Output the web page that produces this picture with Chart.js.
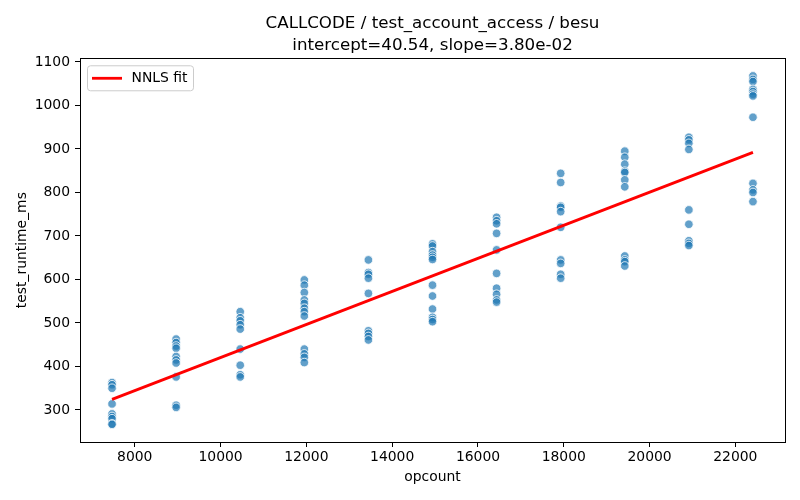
<!DOCTYPE html>
<html>
<head>
<meta charset="utf-8">
<script src="https://cdn.jsdelivr.net/npm/chart.js@4.4.1/dist/chart.umd.min.js"></script>
<style>
    html, body { margin: 0; padding: 0; background: #fff; }
</style>
</head>
<body>
<canvas id="GraficoAjuste" width="800" height="500"></canvas>
<script>
// valores
var opcounts = [7470, 8964, 10458, 11952, 13446, 14940, 16434, 17928, 19422, 20916, 22410];

var rt7470 = [363, 358, 350, 314, 291, 285, 280, 268, 267];
var rt8964 = [463, 455, 447, 442, 423, 415, 408, 376, 311, 306];
var rt10458 = [526, 512, 505, 496, 486, 440, 403, 381, 376];
var rt11952 = [599, 587, 570, 553, 545, 534, 526, 516, 440, 429, 421, 409];
var rt13446 = [645, 616, 612, 603, 568, 482, 476, 469, 461];
var rt14940 = [682, 677, 664, 656, 651, 646, 587, 562, 532, 513, 508, 503];
var rt16434 = [743, 735, 728, 706, 668, 614, 580, 566, 553, 548];
var rt17928 = [844, 823, 769, 766, 756, 720, 645, 637, 612, 603];
var rt19422 = [895, 881, 865, 849, 846, 829, 813, 654, 645, 641, 631];
var rt20916 = [927, 921, 913, 899, 760, 727, 689, 683, 678];
var rt22410 = [1068, 1060, 1055, 1037, 1032, 1026, 1022, 973, 821, 806, 800, 779];

var runtimes = [rt7470, rt8964, rt10458, rt11952, rt13446, rt14940, rt16434, rt17928, rt19422, rt20916, rt22410];

// reta NNLS (pontos extremos)
var fitX = [7470, 22410];
var fitY = [324.4, 892.1];

var xTicks = [8000, 10000, 12000, 14000, 16000, 18000, 20000, 22000];
var yTicks = [300, 400, 500, 600, 700, 800, 900, 1000, 1100];

function MontarPontos() {
    var pontos = [];
    var indice = 0;
    while (indice < opcounts.length) {
        var lista = runtimes[indice];
        for (var j = 0; j < lista.length; j++) {
            pontos.push({ x: opcounts[indice], y: lista[j] });
        }
        indice++;
    }
    return pontos;
}

function MontarReta() {
    var pontos = [];
    for (var i = 0; i < fitX.length; i++) {
        pontos.push({ x: fitX[i], y: fitY[i] });
    }
    return pontos;
}

function SemVirgula(valor) {
    return String(valor);
}

var fonte = "'DejaVu Sans', sans-serif";

var moldura = {
    id: 'moldura',
    afterDatasetsDraw: function (chart) {
        var a = chart.chartArea;
        var ctx = chart.ctx;
        ctx.save();
        ctx.strokeStyle = '#000';
        ctx.lineWidth = 1;
        ctx.strokeRect(Math.round(a.left) + 0.5, Math.round(a.top) + 0.5,
            Math.round(a.right - a.left), Math.round(a.bottom - a.top));

        // legenda dentro da area
        var ds = chart.data.datasets[0];
        var bx = a.left + 7.5, by = a.top + 7.5, bw = 106, bh = 25;
        ctx.beginPath();
        ctx.roundRect(bx, by, bw, bh, 3);
        ctx.fillStyle = 'rgba(255,255,255,0.8)';
        ctx.fill();
        ctx.strokeStyle = '#cccccc';
        ctx.lineWidth = 1;
        ctx.stroke();
        ctx.beginPath();
        ctx.moveTo(bx + 4.5, by + 12.5);
        ctx.lineTo(bx + 34.5, by + 12.5);
        ctx.strokeStyle = ds.borderColor;
        ctx.lineWidth = ds.borderWidth;
        ctx.stroke();
        ctx.fillStyle = '#000';
        ctx.font = '13.9px ' + fonte;
        ctx.textBaseline = 'middle';
        ctx.textAlign = 'left';
        ctx.fillText(ds.label, bx + 44, by + 13);
        ctx.restore();
    }
};

var ctx = document.getElementById('GraficoAjuste').getContext('2d');

var grafico = new Chart(ctx, {
    type: 'scatter',
    data: {
        datasets: [
            {
                type: 'line',
                label: 'NNLS fit',
                data: MontarReta(),
                borderColor: '#ff0000',
                borderWidth: 2.8,
                pointRadius: 0,
                fill: false,
                order: 0
            },
            {
                label: 'runs',
                data: MontarPontos(),
                pointRadius: 4.3,
                pointBackgroundColor: 'rgba(31,119,180,0.7)',
                pointBorderColor: '#ffffff',
                pointBorderWidth: 0.8,
                order: 1
            }
        ]
    },
    options: {
        responsive: false,
        animation: false,
        events: [],
        layout: { padding: { left: 0, right: 15, top: 0, bottom: 0 } },
        plugins: {
            legend: { display: false },
            tooltip: { enabled: false },
            title: {
                display: true,
                fullSize: false,
                text: ['CALLCODE / test_account_access / besu', 'intercept=40.54, slope=3.80e-02'],
                color: '#000',
                font: { family: fonte, size: 16.7, weight: 'normal', lineHeight: 1.317 },
                padding: { top: 13, bottom: 1.3 }
            }
        },
        scales: {
            x: {
                type: 'linear',
                min: 6723,
                max: 23157,
                afterBuildTicks: function (scale) {
                    scale.ticks = xTicks.map(function (v) { return { value: v }; });
                },
                afterFit: function (scale) { scale.height = 58; },
                grid: { drawOnChartArea: false, drawTicks: true, tickLength: 5, color: '#000' },
                border: { display: false },
                ticks: { color: '#000', padding: 2, maxRotation: 0, callback: SemVirgula, font: { family: fonte, size: 13.9 } },
                title: {
                    display: true,
                    text: 'opcount',
                    color: '#000',
                    font: { family: fonte, size: 13.9 },
                    padding: { top: 0, bottom: 14.6 }
                }
            },
            y: {
                type: 'linear',
                min: 226.4,
                max: 1108.5,
                afterBuildTicks: function (scale) {
                    scale.ticks = yTicks.map(function (v) { return { value: v }; });
                },
                afterFit: function (scale) { scale.width = 80; },
                grid: { drawOnChartArea: false, drawTicks: true, tickLength: 5, color: '#000' },
                border: { display: false },
                ticks: { color: '#000', padding: 5, callback: SemVirgula, font: { family: fonte, size: 13.9 } },
                title: {
                    display: true,
                    text: 'test_runtime_ms',
                    color: '#000',
                    font: { family: fonte, size: 13.9 },
                    padding: { top: 13.6, bottom: 0 }
                }
            }
        }
    },
    plugins: [moldura]
});
</script>
</body>
</html>
